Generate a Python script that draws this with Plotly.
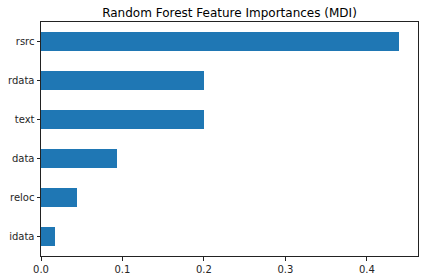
import plotly.graph_objects as go

features = ["idata", "reloc", "data", "text", "rdata", "rsrc"]
importances = [0.0177, 0.0447, 0.0937, 0.200, 0.200, 0.440]
x_ticks = [0.0, 0.1, 0.2, 0.3, 0.4]
x_tick_labels = ["0.0", "0.1", "0.2", "0.3", "0.4"]

fig = go.Figure(go.Bar(
    x=importances, y=features, orientation="h",
    marker=dict(color="#1f77b4", line=dict(width=0)),
    width=0.5, hoverinfo="skip",
))

fig.update_layout(
    width=424, height=280,
    margin=dict(l=41, r=6, t=22, b=24, pad=0, autoexpand=False),
    paper_bgcolor="white", plot_bgcolor="white",
    font=dict(family="DejaVu Sans", size=10, color="#262626"),
    title=dict(text="Random Forest Feature Importances (MDI)", xref="paper", x=0.5, xanchor="center",
               y=1 - 13/280, yanchor="middle", font=dict(size=12, color="black")),
    showlegend=False,
    bargap=0,
)
fig.update_xaxes(range=[0, 0.4628], tickvals=x_ticks, ticktext=x_tick_labels, automargin=False,
                 showgrid=False, zeroline=False, showline=True, linecolor="#222222", linewidth=1,
                 mirror=True, ticks="outside", ticklen=3.5, tickcolor="#222222", tickwidth=1)
fig.update_yaxes(range=[-0.5, 5.5], categoryorder="array", categoryarray=features, automargin=False,
                 showgrid=False, zeroline=False, showline=True, linecolor="#222222", linewidth=1,
                 mirror=True, ticks="outside", ticklen=3.5, tickcolor="#222222", tickwidth=1)

fig.write_html("out.html", config={"displayModeBar": False},
               post_script="document.body.style.margin='0';document.body.style.overflow='hidden';")
